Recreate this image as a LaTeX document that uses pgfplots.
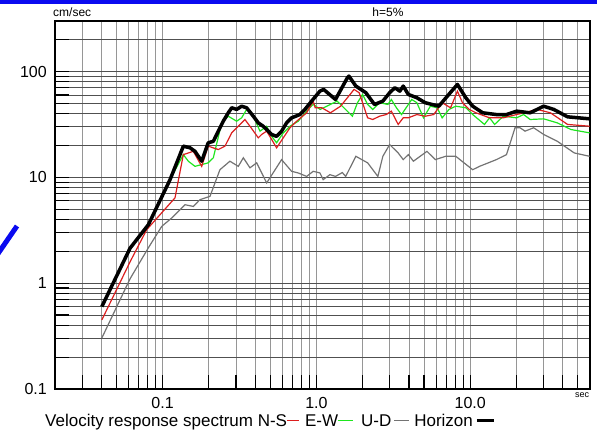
\documentclass[border=0pt]{standalone}
\usepackage{pgfplots}
\pgfplotsset{compat=1.18}
\usepackage{fontspec}
\setmainfont{Liberation Sans}
\definecolor{nsred}{RGB}{220,30,30}
\definecolor{ewgreen}{RGB}{30,230,30}
\definecolor{udgray}{RGB}{115,115,115}
\definecolor{vgrid}{RGB}{150,150,150}
\definecolor{hgrid}{RGB}{80,80,80}
\definecolor{slideblue}{RGB}{10,10,240}
\begin{document}
\begin{tikzpicture}
\path[use as bounding box] (-55bp,-45bp) rectangle (542bp,389bp);
\begin{axis}[xmode=log, ymode=log, scale only axis,
  width=535bp, height=368bp, at={(0bp,0bp)}, anchor=south west,
  xmin=0.02, xmax=60, ymin=0.1, ymax=300,
  xtick={0.1,1,10},
  minor xtick={0.02,0.03,0.04,0.05,0.06,0.07,0.08,0.09,0.2,0.3,0.4,0.5,0.6,0.7,0.8,0.9,2,3,4,5,6,7,8,9,20,30,40,50},
  ytick={0.1,1,10,100},
  xmajorgrids, xminorgrids,
  major grid style={vgrid, line width=0.9bp},
  minor grid style={vgrid, line width=0.9bp},
  xticklabel=\empty, yticklabel=\empty,
  tick style={draw=none}, axis line style={draw=none}]
\addplot[draw=none] coordinates {(1,1)};
\end{axis}
\begin{axis}[xmode=log, ymode=log, scale only axis,
  width=535bp, height=368bp, at={(0bp,0bp)}, anchor=south west,
  xmin=0.02, xmax=60, ymin=0.1, ymax=300,
  xtick={0.1,1,10},
  minor xtick={0.02,0.03,0.04,0.05,0.06,0.07,0.08,0.09,0.2,0.3,0.4,0.5,0.6,0.7,0.8,0.9,2,3,4,5,6,7,8,9,20,30,40,50},
  ytick={0.1,1,10,100},
  minor ytick={0.2,0.3,0.4,0.5,0.6,0.7,0.8,0.9,2,3,4,5,6,7,8,9,20,30,40,50,60,70,80,90,200},
  ymajorgrids, yminorgrids,
  major grid style={hgrid, line width=0.8bp},
  minor grid style={hgrid, line width=0.8bp},
  tick align=inside, xtick pos=left, ytick pos=left,
  major tick length=14bp, minor tick length=14bp,
  tick style={black, line width=1.1bp},
  axis line style={black, line width=1.6bp},
  xticklabels={0.1,1.0,10.0},
  yticklabels={0.1,1,10,100},
  xticklabel style={font=\fontsize{16bp}{16bp}\selectfont, inner sep=0pt, anchor=north, yshift=-8bp},
  yticklabel style={font=\fontsize{16bp}{16bp}\selectfont, inner sep=0pt, anchor=east, xshift=-8bp},
  ]
\addplot[udgray, line width=1.2bp] coordinates {
(0.0403,0.303) (0.0615,1.1) (0.0809,2.16) (0.0988,3.44) (0.1147,4.13) (0.140,5.51) (0.1585,5.31) (0.175,6.15) (0.2034,6.61) (0.236,11.8) (0.274,14.2) (0.3107,12.7) (0.335,15.3) (0.370,12.3) (0.409,13.7) (0.475,8.85) (0.594,14.7) (0.690,11.4) (0.762,11.0) (0.864,10.2) (0.953,11.4) (1.054,11.0) (1.107,9.51) (1.224,10.6) (1.331,10.2) (1.473,11.1) (1.550,10.2) (1.805,15.8) (2.153,13.7) (2.508,10.2) (2.703,15.8) (2.992,20.4) (3.40,17.0) (3.667,14.7) (3.958,16.4) (4.27,14.2) (5.23,17.6) (5.93,14.7) (6.91,15.8) (8.05,15.8) (10.37,11.8) (11.48,12.7) (14.78,14.7) (17.2,16.4) (19.54,29.4) (21.06,29.4) (22.7,27.3) (25.8,29.4) (30.0,25.4) (36.8,21.9) (47.4,17.0) (59.7,15.8)};
\addplot[ewgreen, line width=1.2bp] coordinates {
(0.0403,0.60) (0.0615,2.14) (0.0809,3.57) (0.1119,9.51) (0.1365,16.4) (0.147,14.2) (0.1625,12.7) (0.1797,13.2) (0.198,13.7) (0.2138,15.3) (0.2423,32.7) (0.2675,37.8) (0.303,33.9) (0.3267,36.5) (0.352,43.8) (0.389,37.8) (0.430,27.3) (0.475,30.4) (0.512,24.4) (0.551,21.2) (0.609,26.3) (0.673,30.4) (0.762,33.9) (0.864,42.2) (0.953,49.0) (1.058,43.8) (1.365,52.5) (1.509,45.4) (1.713,37.8) (1.849,50.7) (1.995,60.7) (2.153,48.8) (2.324,43.8) (2.573,50.7) (2.917,48.8) (3.069,54.4) (3.313,45.4) (3.575,39.2) (4.164,54.4) (4.495,50.7) (4.967,36.5) (5.50,47.0) (6.09,45.4) (6.57,36.5) (7.27,43.8) (8.05,47.0) (9.37,45.4) (10.37,39.2) (12.37,31.6) (13.35,36.5) (14.4,31.6) (16.4,37.8) (20.0,36.5) (22.2,39.2) (24.5,35.2) (30.0,35.7) (36.8,32.7) (45.1,28.3) (59.7,26.3)};
\addplot[nsred, line width=1.2bp] coordinates {
(0.0403,0.449) (0.0615,1.59) (0.0789,3.20) (0.1205,6.4) (0.1365,16.4) (0.1585,17.6) (0.1797,12.7) (0.198,19.7) (0.2303,18.3) (0.2545,19.7) (0.2814,26.3) (0.3107,30.4) (0.343,35.2) (0.370,30.4) (0.419,23.6) (0.4407,25.4) (0.475,27.3) (0.512,22.8) (0.551,19.0) (0.609,23.6) (0.673,29.4) (0.744,33.9) (0.864,40.7) (0.953,52.5) (0.982,45.4) (1.086,45.4) (1.233,40.7) (1.436,47.0) (1.757,67.7) (1.897,63.0) (2.153,36.5) (2.324,35.2) (2.573,37.8) (2.843,39.2) (3.069,42.2) (3.40,31.6) (3.667,36.5) (3.958,36.5) (4.495,39.2) (5.096,37.8) (5.788,39.2) (6.57,50.7) (7.45,45.4) (8.25,65.2) (8.90,50.7) (9.85,43.8) (10.9,40.7) (13.35,36.5) (16.4,36.5) (20.0,39.2) (27.2,43.8) (33.2,40.7) (42.9,31.6) (59.7,30.4)};
\addplot[black, line width=3.5bp, line join=round] coordinates {
(0.0403,0.60) (0.0615,2.14) (0.0809,3.57) (0.1119,9.51) (0.1365,19.7) (0.151,19.0) (0.1625,17.6) (0.1797,14.2) (0.198,21.2) (0.2138,21.9) (0.248,33.9) (0.2675,40.7) (0.2814,45.4) (0.303,43.8) (0.3267,47.0) (0.352,45.4) (0.389,37.8) (0.419,32.7) (0.451,30.4) (0.475,28.3) (0.512,25.4) (0.551,24.4) (0.594,27.3) (0.640,32.7) (0.690,36.5) (0.781,39.2) (0.842,43.8) (0.931,52.5) (1.054,65.2) (1.114,67.7) (1.331,54.4) (1.590,87.4) (1.626,90.5) (1.805,72.8) (2.097,63.0) (2.385,48.8) (2.703,52.5) (2.992,63.0) (3.235,70.2) (3.486,65.2) (3.667,72.8) (3.958,60.7) (4.495,56.5) (5.096,50.7) (6.245,47.0) (7.253,60.7) (8.25,75.5) (9.35,56.5) (10.37,47.0) (12.05,40.7) (14.78,39.2) (17.2,39.2) (20.0,42.2) (24.5,40.7) (30.0,47.0) (34.9,43.8) (42.9,37.3) (59.7,35.7)};
\end{axis}
\fill[slideblue] (-55bp,385bp) rectangle (542bp,389bp);
\draw[slideblue, line width=5bp] (-60bp,131bp) -- (-38bp,163bp);
\node[anchor=west, inner sep=0pt, font=\fontsize{12bp}{12bp}\selectfont] at (-2bp,377bp) {cm/sec};
\node[inner sep=0pt, font=\fontsize{12bp}{12bp}\selectfont] at (333bp,377bp) {h=5\%};
\node[inner sep=0pt, font=\fontsize{9bp}{9bp}\selectfont] at (527bp,-6bp) {sec};
\node[anchor=base west, inner sep=0pt, font=\fontsize{17bp}{17bp}\selectfont] at (-10bp,-37bp) {Velocity response spectrum N-S\textcolor{nsred}{\rule[0.3em]{12bp}{1.3bp}}\hspace{6bp}E-W\textcolor{ewgreen}{\rule[0.3em]{15bp}{1.3bp}}\hspace{8bp}U-D\hspace{3bp}\textcolor{udgray}{\rule[0.3em]{15bp}{1.3bp}}\hspace{5bp}Horizon\hspace{4bp}\textcolor{black}{\rule[0.22em]{17bp}{3.5bp}}};
\end{tikzpicture}
\end{document}
